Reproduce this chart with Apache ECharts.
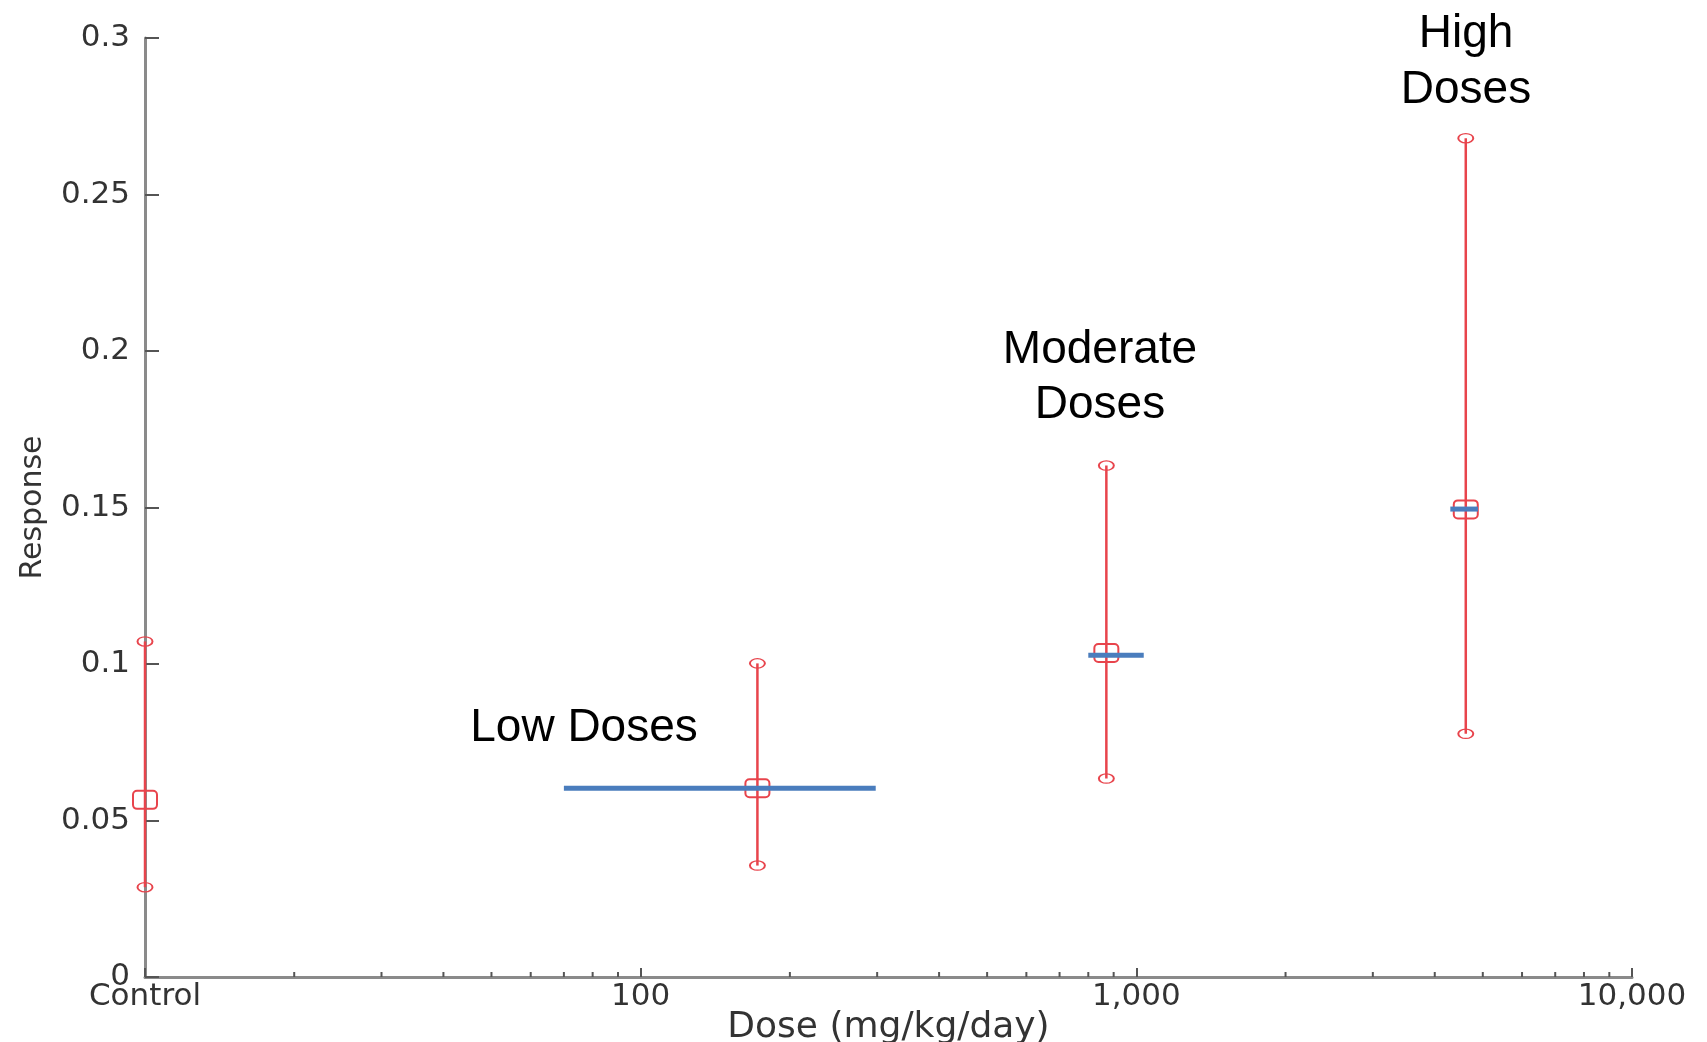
<!DOCTYPE html>
<html>
<head>
<meta charset="utf-8">
<script src="https://cdn.jsdelivr.net/npm/echarts@6/dist/echarts.min.js"></script>
<style>
html,body{margin:0;padding:0;background:#fff;width:100%;height:100%;overflow:hidden;}
#chart{width:1707px;height:1042px;}
</style>
</head>
<body>
<div id="chart"></div>
<script>
// ---- data ----
var groupNames   = ['Control', 'Low', 'Moderate', 'High'];
var doseValues   = [10, 172, 870, 4620];          // Control drawn at the axis origin (10)
var meanResp     = [0.0566, 0.0603, 0.1035, 0.1494];
var lowerResp    = [0.0287, 0.0356, 0.0634, 0.0777];
var upperResp    = [0.1072, 0.1002, 0.1634, 0.2680];

var rangeStart   = [70, 800, 4300];                // blue dose-range bars
var rangeEnd     = [298, 1035, 4890];
var rangeResp    = [0.0603, 0.1028, 0.1495];
var rangeLabels  = ['Low Doses', 'Moderate\nDoses', 'High\nDoses'];

var xTickValues  = [10, 100, 1000, 10000];
var xTickLabels  = ['Control', '100', '1,000', '10,000'];
var xMinorTicks  = [20, 30, 40, 50, 60, 70, 80, 90,
                    200, 300, 400, 500, 600, 700, 800, 900,
                    2000, 3000, 4000, 5000, 6000, 7000, 8000, 9000];
var yTicks       = [0, 0.05, 0.1, 0.15, 0.2, 0.25, 0.3];

// ---- chart ----
var chart = echarts.init(document.getElementById('chart'));
var RED = '#e8444c', BLUE = '#4a7dbd';

var errData = doseValues.map(function (d, i) { return [d, lowerResp[i], upperResp[i], meanResp[i]]; });
var rangeData = rangeStart.map(function (s, i) { return [s, rangeEnd[i], rangeResp[i]]; });
var minorData = xMinorTicks.map(function (v) { return [v, 0]; });

function fmtX(v) {
  var idx = xTickValues.indexOf(Math.round(v));
  return idx >= 0 ? xTickLabels[idx] : '';
}

var option = {
  backgroundColor: '#ffffff',
  animation: false,
  grid: { left: 145, right: 75, top: 38, bottom: 65, containLabel: false, outerBoundsMode: 'none' },
  xAxis: {
    type: 'log', logBase: 10, min: 10, max: 10000,
    name: 'Dose (mg/kg/day)', nameLocation: 'middle', nameGap: 33, nameMoveOverlap: false,
    nameTextStyle: { fontFamily: 'DejaVu Sans', fontSize: 36, color: '#333333' },
    axisLine: { show: true, lineStyle: { color: '#8a8a8a', width: 3 } },
    axisTick: { show: true, inside: true, length: 9, lineStyle: { color: '#555555', width: 2 } },
    axisLabel: { show: true, margin: 4, fontFamily: 'DejaVu Sans', fontSize: 31, color: '#333333',
                 formatter: fmtX, showMinLabel: true, showMaxLabel: true },
    splitLine: { show: false }
  },
  yAxis: {
    type: 'value', min: 0, max: 0.3, interval: 0.05,
    name: 'Response', nameLocation: 'middle', nameGap: 97, nameRotate: 90, nameMoveOverlap: false,
    nameTextStyle: { fontFamily: 'DejaVu Sans', fontSize: 30, color: '#333333' },
    axisLine: { show: true, lineStyle: { color: '#8a8a8a', width: 3 } },
    axisTick: { show: true, inside: true, length: 14, lineStyle: { color: '#555555', width: 2 } },
    axisLabel: { margin: 15, fontFamily: 'DejaVu Sans', fontSize: 31, color: '#333333',
                 formatter: function (v) { return String(+v.toFixed(2)); } },
    splitLine: { show: false }
  },
  series: [
    {
      name: 'minor ticks', type: 'custom', silent: true,
      data: minorData, encode: { x: 0, y: 1 },
      renderItem: function (params, api) {
        var p = api.coord([api.value(0), 0]);
        return { type: 'line', shape: { x1: p[0], y1: p[1], x2: p[0], y2: p[1] - 5 },
                 style: { stroke: '#555555', lineWidth: 2 } };
      },
      z: 3
    },
    {
      name: 'Response', type: 'custom', clip: false,
      data: errData, encode: { x: 0, y: [1, 2, 3] },
      renderItem: function (params, api) {
        var x = api.value(0);
        var lo = api.coord([x, api.value(1)]);
        var hi = api.coord([x, api.value(2)]);
        var mn = api.coord([x, api.value(3)]);
        var st = { stroke: RED, fill: null, lineWidth: 2.5 };
        return {
          type: 'group',
          children: [
            { type: 'line', shape: { x1: lo[0], y1: lo[1], x2: hi[0], y2: hi[1] }, style: st },
            { type: 'circle', x: lo[0], y: lo[1], scaleY: 0.62, shape: { cx: 0, cy: 0, r: 7.5 },
              style: { stroke: RED, fill: null, lineWidth: 2, strokeNoScale: true } },
            { type: 'circle', x: hi[0], y: hi[1], scaleY: 0.62, shape: { cx: 0, cy: 0, r: 7.5 },
              style: { stroke: RED, fill: null, lineWidth: 2, strokeNoScale: true } },
            { type: 'rect', shape: { x: mn[0] - 12, y: mn[1] - 9, width: 24, height: 18, r: 4 },
              style: { stroke: RED, fill: null, lineWidth: 2 } }
          ]
        };
      },
      z: 5
    },
    {
      name: 'Dose range', type: 'custom', clip: false,
      data: rangeData, encode: { x: [0, 1], y: 2 },
      renderItem: function (params, api) {
        var a = api.coord([api.value(0), api.value(2)]);
        var b = api.coord([api.value(1), api.value(2)]);
        return { type: 'line', shape: { x1: a[0], y1: a[1], x2: b[0], y2: b[1] },
                 style: { stroke: BLUE, lineWidth: 5 } };
      },
      z: 6
    }
  ],
  graphic: [
    { type: 'text', x: 584, y: 728, z: 10,
      style: { text: rangeLabels[0], font: '46px "Liberation Sans", Arial, sans-serif', fill: '#000',
               align: 'center', verticalAlign: 'middle' } },
    { type: 'text', x: 1100, y: 378, z: 10,
      style: { text: rangeLabels[1], font: '46px "Liberation Sans", Arial, sans-serif', fill: '#000',
               align: 'center', verticalAlign: 'middle', lineHeight: 55 } },
    { type: 'text', x: 1466, y: 62, z: 10,
      style: { text: rangeLabels[2], font: '46px "Liberation Sans", Arial, sans-serif', fill: '#000',
               align: 'center', verticalAlign: 'middle', lineHeight: 56 } }
  ]
};
chart.setOption(option);
</script>
</body>
</html>
